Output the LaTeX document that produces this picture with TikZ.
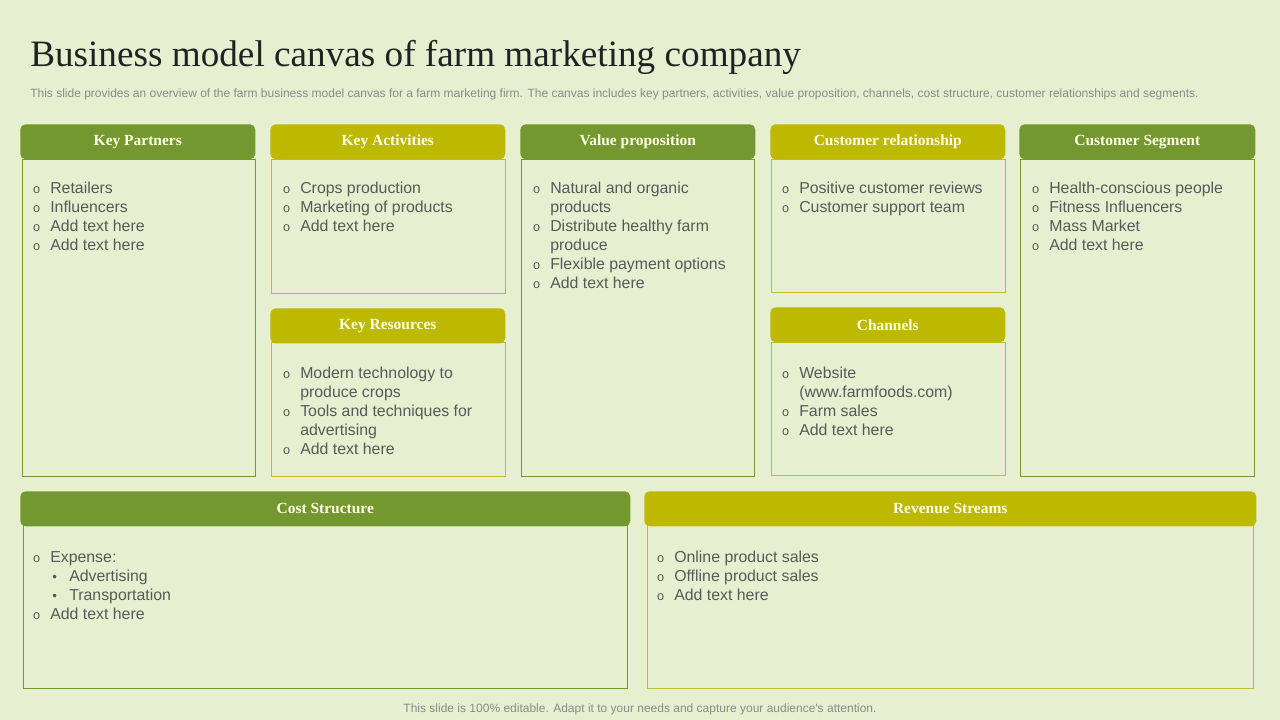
\documentclass[tikz,border=0pt]{standalone}
\usepackage{fontspec}
\setmainfont{Liberation Serif}
\newfontfamily\arialf{Liberation Sans}
\newdimen\pxu \pxu=0.75pt
\definecolor{bgc}{HTML}{E6F0D1}
\definecolor{grn}{HTML}{73982F}
\definecolor{olv}{HTML}{BDB800}
\definecolor{olvb}{HTML}{C2BC2C}
\definecolor{txt}{HTML}{595959}
\definecolor{ttl}{HTML}{222222}
\definecolor{htx}{HTML}{FFFFE8}
\definecolor{sub}{HTML}{8A8A8A}
\newcommand{\itm}{\makebox[13.5pt][l]{\hspace{0.6pt}\fontsize{9.5}{10}\selectfont o}}
\newcommand{\sitm}{\hspace*{13.5pt}\makebox[14.25pt][l]{\hspace{1.5pt}\fontsize{10}{10}\selectfont\textbullet}}
\newcommand{\cont}{\hspace*{13.5pt}}
\tikzset{
  hdr/.style={rounded corners=4pt, anchor=north west, inner sep=0pt, text=htx,
    font=\bfseries\fontsize{11.6}{13}\selectfont},
  hdrG/.style={hdr, fill=grn},
  hdrO/.style={hdr, fill=olv},
  bodyG/.style={draw=grn, line width=0.8pt, anchor=north west, inner sep=0pt},
  bodyO/.style={draw=olvb, line width=0.8pt, anchor=north west, inner sep=0pt},
  lst/.style={anchor=base west, inner sep=0pt, text=txt,
    font=\arialf\fontsize{11.9}{14.25}\selectfont}
}
\newcommand{\bl}[1]{\begin{tabular}[t]{@{}l@{}}#1\end{tabular}}
\begin{document}
\begin{tikzpicture}[x=0.75pt,y=-0.75pt]
\fill[bgc] (0,0) rectangle (1280,720);
\useasboundingbox (0,0) rectangle (1280,720);

\node[anchor=base west, inner sep=0pt, text=ttl, font=\fontsize{27.9}{30}\selectfont] (title) at (30,67) {Business model canvas of farm marketing company};
\node[anchor=base west, inner sep=0pt, text=sub, font=\arialf\fontsize{9}{10}\selectfont] (subt) at (30,98) {This slide provides an overview of the farm business model canvas for a farm marketing firm. The canvas includes key partners, activities, value proposition, channels, cost structure, customer relationships and segments.};

% Key Partners
\node[bodyG, minimum width=233\pxu, minimum height=317\pxu] (kpb) at (22,159) {};
\node[hdrG, minimum width=235\pxu, minimum height=35\pxu] (kph) at (20,124) {Key Partners};
\node[lst] (kpl) at (32,194) {\bl{\itm Retailers\\ \itm Influencers\\ \itm Add text here\\ \itm Add text here}};

% Key Activities
\node[bodyO, minimum width=234\pxu, minimum height=134\pxu] (kab) at (271,159) {};
\node[hdrO, minimum width=235\pxu, minimum height=35\pxu] (kah) at (270,124) {Key Activities};
\node[lst] (kal) at (282,194) {\bl{\itm Crops production\\ \itm Marketing of products\\ \itm Add text here}};

% Key Resources
\node[bodyO, minimum width=234\pxu, minimum height=134\pxu] (krb) at (271,342) {};
\node[hdrO, minimum width=235\pxu, minimum height=35\pxu] (krh) at (270,308) {Key Resources};
\node[lst] (krl) at (282,378) {\bl{\itm Modern technology to\\ \cont produce crops\\ \itm Tools and techniques for\\ \cont advertising\\ \itm Add text here}};

% Value proposition
\node[bodyG, minimum width=233\pxu, minimum height=317\pxu] (vpb) at (521,159) {};
\node[hdrG, minimum width=235\pxu, minimum height=35\pxu] (vph) at (520,124) {Value proposition};
\node[lst] (vpl) at (532,194) {\bl{\itm Natural and organic\\ \cont products\\ \itm Distribute healthy farm\\ \cont produce\\ \itm Flexible payment options\\ \itm Add text here}};

% Customer relationship
\node[bodyO, minimum width=234\pxu, minimum height=133\pxu] (crb) at (771,159) {};
\node[hdrO, minimum width=235\pxu, minimum height=35\pxu] (crh) at (770,124) {Customer relationship};
\node[lst] (crl) at (781,194) {\bl{\itm Positive customer reviews\\ \itm Customer support team}};

% Channels
\node[bodyO, minimum width=234\pxu, minimum height=133\pxu] (chb) at (771,342) {};
\node[hdrO, minimum width=235\pxu, minimum height=35\pxu] (chh) at (770,307) {Channels};
\node[lst] (chl) at (781,378) {\bl{\itm Website\\ \cont (www.farmfoods.com)\\ \itm Farm sales\\ \itm Add text here}};

% Customer Segment
\node[bodyG, minimum width=234\pxu, minimum height=317\pxu] (csb) at (1020,159) {};
\node[hdrG, minimum width=236\pxu, minimum height=35\pxu] (csh) at (1019,124) {Customer Segment};
\node[lst] (csl) at (1031,194) {\bl{\itm Health-conscious people\\ \itm Fitness Influencers\\ \itm Mass Market\\ \itm Add text here}};

% Cost Structure
\node[bodyG, minimum width=604\pxu, minimum height=163\pxu] (cob) at (23,525) {};
\node[hdrG, minimum width=610\pxu, minimum height=35\pxu] (coh) at (20,491) {Cost Structure};
\node[lst] (col) at (32,562) {\bl{\itm Expense:\\ \sitm Advertising\\ \sitm Transportation\\ \itm Add text here}};

% Revenue Streams
\node[bodyO, minimum width=606\pxu, minimum height=163\pxu] (rvb) at (647,525) {};
\node[hdrO, minimum width=612\pxu, minimum height=35\pxu] (rvh) at (644,491) {Revenue Streams};
\node[lst] (rvl) at (656,562) {\bl{\itm Online product sales\\ \itm Offline product sales\\ \itm Add text here}};

\node[anchor=base, inner sep=0pt, text=sub, font=\arialf\fontsize{9}{10}\selectfont] (foot) at (640,712) {This slide is 100\% editable. Adapt it to your needs and capture your audience's attention.};
\end{tikzpicture}
\end{document}
